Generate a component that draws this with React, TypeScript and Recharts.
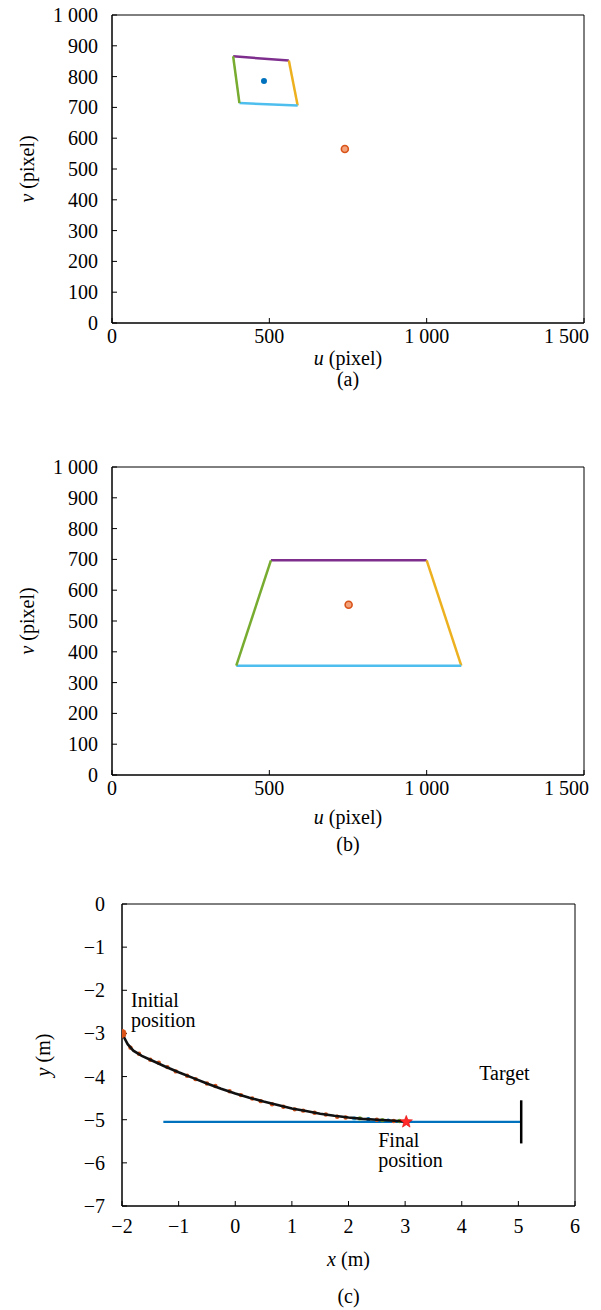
import React from 'react';
import {
  ComposedChart,
  Scatter,
  XAxis,
  YAxis,
  ReferenceLine,
  ReferenceArea,
  ReferenceDot,
} from 'recharts';

const FONT = 'Liberation Serif';
const FS = 20;
const W = 601;

const BLUE = '#0072BD';
const RED = '#D95319';
const YELLOW = '#EDB120';
const PURPLE = '#7E2F8E';
const GREEN = '#77AC30';
const CYAN = '#4DBEEE';

// feature corners in the image plane, ordered TL, TR, BR, BL
const cornersA = [
  { u: 385, v: 866 },
  { u: 562, v: 852 },
  { u: 590, v: 706 },
  { u: 405, v: 714 },
];
const centroidA = [{ u: 483, v: 786 }];
const desiredA = [{ u: 740, v: 565 }];

const cornersB = [
  { u: 505, v: 697 },
  { u: 1000, v: 697 },
  { u: 1110, v: 355 },
  { u: 395, v: 355 },
];
const centroidB = [{ u: 752, v: 553 }];
const desiredB = [{ u: 752, v: 553 }];

// edge colours: top, right, bottom, left
const edgeColors = [PURPLE, YELLOW, CYAN, GREEN];

const uTicks = [0, 500, 1000, 1500];
const vTicks = [0, 100, 200, 300, 400, 500, 600, 700, 800, 900, 1000];

// robot path in the ground plane
const pathX = [-2.0, -1.96, -1.9, -1.8, -1.65, -1.5, -1.25, -1.0, -0.75, -0.5, -0.25, 0.0, 0.25, 0.5, 0.75, 1.0, 1.25, 1.5, 1.75, 2.0, 2.25, 2.5, 2.75, 3.0];
const pathY = [-3.0, -3.1, -3.25, -3.4, -3.52, -3.61, -3.76, -3.9, -4.03, -4.16, -4.28, -4.39, -4.49, -4.58, -4.66, -4.74, -4.8, -4.86, -4.91, -4.95, -4.98, -5.0, -5.02, -5.04];

// estimated positions scattered along the path
const estX = [-1.97, -1.85, -1.7, -1.5, -1.35, -1.2, -1.05, -0.85, -0.7, -0.5, -0.35, -0.1, 0.1, 0.3, 0.45, 0.65, 0.85, 1.05, 1.2, 1.4, 1.6, 1.8, 1.95, 2.1, 2.2, 2.35, 2.5, 2.6, 2.7, 2.8, 2.9];
const estY = [-3.05, -3.33, -3.47, -3.61, -3.68, -3.78, -3.88, -3.98, -4.06, -4.16, -4.22, -4.34, -4.43, -4.51, -4.57, -4.64, -4.7, -4.76, -4.79, -4.84, -4.88, -4.93, -4.95, -4.97, -4.97, -4.99, -5.0, -5.01, -5.02, -5.03, -5.03];
const estColors = [RED, RED, RED, RED, RED, RED, RED, RED, RED, RED, RED, RED, RED, RED, RED, RED, RED, RED, RED, RED, RED, RED, RED, CYAN, GREEN, BLUE, RED, GREEN, BLUE, RED, GREEN];

const startPoint = [{ x: -2.0, y: -3.0 }];
const finalPoint = [{ x: 3.02, y: -5.05 }];
const lineStartX = -1.27;
const targetX = 5.05;
const targetY = -5.05;
const targetHalf = 0.5;

const xTicks = [-2, -1, 0, 1, 2, 3, 4, 5, 6];
const yTicks = [-7, -6, -5, -4, -3, -2, -1, 0];

const fmt = (v: number) => {
  const s = Math.abs(v)
    .toString()
    .replace(/\B(?=(\d{3})+(?!\d))/g, ' ');
  return v < 0 ? '\u2212' + s : s;
};

const txt = { fontFamily: FONT, fontSize: FS, fill: '#000' };

// bottom tick label; labels that would run off the canvas are pulled back inside
const XTick = (props: any) => {
  const { x, y, payload } = props;
  const text = fmt(payload.value);
  const half = text.length * FS * 0.23;
  const overflow = x + half > W - 2;
  return (
    <text
      x={overflow ? W - 12 : x}
      y={y}
      dy="0.71em"
      textAnchor={overflow ? 'end' : 'middle'}
      style={txt}
    >
      {text}
    </text>
  );
};

const YTick = (props: any) => {
  const { x, y, payload } = props;
  return (
    <text x={x} y={y} dy="0.35em" textAnchor="end" style={txt}>
      {fmt(payload.value)}
    </text>
  );
};

const xTitle =
  (sym: string, unit: string, titleDy: number, caption: string, capDy: number) =>
  (props: any) => {
    const { x, y, width } = props.viewBox;
    const cx = x + width / 2;
    return (
      <g>
        <text x={cx} y={y + titleDy} textAnchor="middle" style={txt}>
          <tspan fontStyle="italic">{sym}</tspan>
          {` (${unit})`}
        </text>
        <text x={cx} y={y + capDy} textAnchor="middle" style={txt}>
          {caption}
        </text>
      </g>
    );
  };

const yTitle = (sym: string, unit: string, dx: number) => (props: any) => {
  const { x, y, height } = props.viewBox;
  const cy = y + height / 2;
  return (
    <text
      transform={`translate(${x + dx}, ${cy}) rotate(-90)`}
      textAnchor="middle"
      style={txt}
    >
      <tspan fontStyle="italic">{sym}</tspan>
      {` (${unit})`}
    </text>
  );
};

const textLines =
  (lines: string[], dx: number, dy: number, step: number) => (props: any) => {
    const { x, y } = props.viewBox;
    return (
      <text style={txt}>
        {lines.map((t, i) => (
          <tspan key={t} x={x + dx} y={y + dy + i * step}>
            {t}
          </tspan>
        ))}
      </text>
    );
  };

const dot = (fill: string, r: number) => (p: any) =>
  <circle cx={p.cx} cy={p.cy} r={r} fill={fill} />;

const ring = (p: any) => (
  <circle cx={p.cx} cy={p.cy} r={3.5} fill="#f3a27a" stroke={RED} strokeWidth={1.6} />
);

type PixelProps = {
  corners: { u: number; v: number }[];
  centroid: { u: number; v: number }[];
  desired: { u: number; v: number }[];
  caption: string;
  titleDy: number;
  capDy: number;
};

const PixelPanel = ({ corners, centroid, desired, caption, titleDy, capDy }: PixelProps) => (
  <ComposedChart
    width={W}
    height={420}
    margin={{ top: 15, right: 17, left: 12, bottom: 0 }}
  >
    <XAxis
      type="number"
      dataKey="u"
      domain={[0, 1500]}
      ticks={uTicks}
      tick={<XTick />}
      tickSize={-5}
      tickMargin={11}
      height={97}
      axisLine={{ stroke: '#000' }}
      tickLine={{ stroke: '#000' }}
      interval={0}
      allowDataOverflow
      label={xTitle('u', 'pixel', titleDy, caption, capDy)}
    />
    <YAxis
      type="number"
      dataKey="v"
      domain={[0, 1000]}
      ticks={vTicks}
      tick={<YTick />}
      tickSize={-5}
      tickMargin={19}
      width={100}
      axisLine={{ stroke: '#000' }}
      tickLine={{ stroke: '#000' }}
      interval={0}
      allowDataOverflow
      label={yTitle('v', 'pixel', 22)}
    />
    <ReferenceArea x1={0} x2={1500} y1={0} y2={1000} fill="none" stroke="#000" />
    {corners.map((c, i) => {
      const n = corners[(i + 1) % corners.length];
      return (
        <ReferenceLine
          key={i}
          segment={[
            { x: c.u, y: c.v },
            { x: n.u, y: n.v },
          ]}
          stroke={edgeColors[i]}
          strokeWidth={2.5}
        />
      );
    })}
    <Scatter data={centroid} shape={dot(BLUE, 3)} isAnimationActive={false} />
    <Scatter data={desired} shape={ring} isAnimationActive={false} />
  </ComposedChart>
);

const pathData = pathX.map((x, i) => ({ x, y: pathY[i] }));
const estData = estX.map((x, i) => ({ x, y: estY[i], c: estColors[i] }));

function starPath(cx: number, cy: number, ro: number, ri: number) {
  const pts: string[] = [];
  for (let i = 0; i < 10; i++) {
    const r = i % 2 === 0 ? ro : ri;
    const a = -Math.PI / 2 + (i * Math.PI) / 5;
    pts.push(`${(cx + r * Math.cos(a)).toFixed(2)},${(cy + r * Math.sin(a)).toFixed(2)}`);
  }
  return 'M' + pts.join('L') + 'Z';
}

const GroundPanel = () => (
  <ComposedChart
    width={W}
    height={421}
    margin={{ top: 15, right: 26, left: 22, bottom: 0 }}
  >
    <XAxis
      type="number"
      dataKey="x"
      domain={[-2, 6]}
      ticks={xTicks}
      tick={<XTick />}
      tickSize={-5}
      tickMargin={18}
      height={104}
      axisLine={{ stroke: '#000' }}
      tickLine={{ stroke: '#000' }}
      interval={0}
      allowDataOverflow
      label={xTitle('x', 'm', 60, '(c)', 97)}
    />
    <YAxis
      type="number"
      dataKey="y"
      domain={[-7, 0]}
      ticks={yTicks}
      tick={<YTick />}
      tickSize={-5}
      tickMargin={22}
      width={100}
      axisLine={{ stroke: '#000' }}
      tickLine={{ stroke: '#000' }}
      interval={0}
      allowDataOverflow
      label={yTitle('y', 'm', 28)}
    />
    <ReferenceArea x1={-2} x2={6} y1={-7} y2={0} fill="none" stroke="#000" />
    <ReferenceLine
      segment={[
        { x: lineStartX, y: targetY },
        { x: targetX, y: targetY },
      ]}
      stroke={BLUE}
      strokeWidth={2.2}
    />
    <ReferenceLine
      segment={[
        { x: targetX, y: targetY + targetHalf },
        { x: targetX, y: targetY - targetHalf },
      ]}
      stroke="#000"
      strokeWidth={2.5}
      label={textLines(['Target'], -42, -20, 0)}
    />
    <Scatter
      data={estData}
      shape={(p: any) => <circle cx={p.cx} cy={p.cy} r={2.2} fill={p.payload.c} />}
      isAnimationActive={false}
    />
    <Scatter
      data={pathData}
      line={{ stroke: '#111', strokeWidth: 2.6 }}
      shape={() => <g />}
      isAnimationActive={false}
    />
    <Scatter data={startPoint} shape={dot(RED, 4.5)} isAnimationActive={false} />
    <Scatter
      data={finalPoint}
      shape={(p: any) => (
        <path
          d={starPath(p.cx, p.cy, 6.5, 2.8)}
          fill="#ff2a2a"
          stroke="#e00000"
          strokeWidth={0.5}
        />
      )}
      isAnimationActive={false}
    />
    <ReferenceDot
      x={startPoint[0].x}
      y={startPoint[0].y}
      r={0}
      stroke="none"
      label={textLines(['Initial', 'position'], 9, -26, 20)}
    />
    <ReferenceDot
      x={finalPoint[0].x}
      y={finalPoint[0].y}
      r={0}
      stroke="none"
      label={textLines(['Final', 'position'], -28, 25, 20)}
    />
  </ComposedChart>
);

export default function App() {
  return (
    <div
      style={{
        position: 'absolute',
        left: 0,
        top: 0,
        width: W,
        height: 1310,
        background: '#fff',
        overflow: 'hidden',
        fontFamily: FONT,
      }}
    >
      <div style={{ position: 'absolute', left: 0, top: 0 }}>
        <PixelPanel
          corners={cornersA}
          centroid={centroidA}
          desired={desiredA}
          caption="(a)"
          titleDy={42}
          capDy={63}
        />
      </div>
      <div style={{ position: 'absolute', left: 0, top: 452 }}>
        <PixelPanel
          corners={cornersB}
          centroid={centroidB}
          desired={desiredB}
          caption="(b)"
          titleDy={49}
          capDy={76}
        />
      </div>
      <div style={{ position: 'absolute', left: 0, top: 889 }}>
        <GroundPanel />
      </div>
    </div>
  );
}
